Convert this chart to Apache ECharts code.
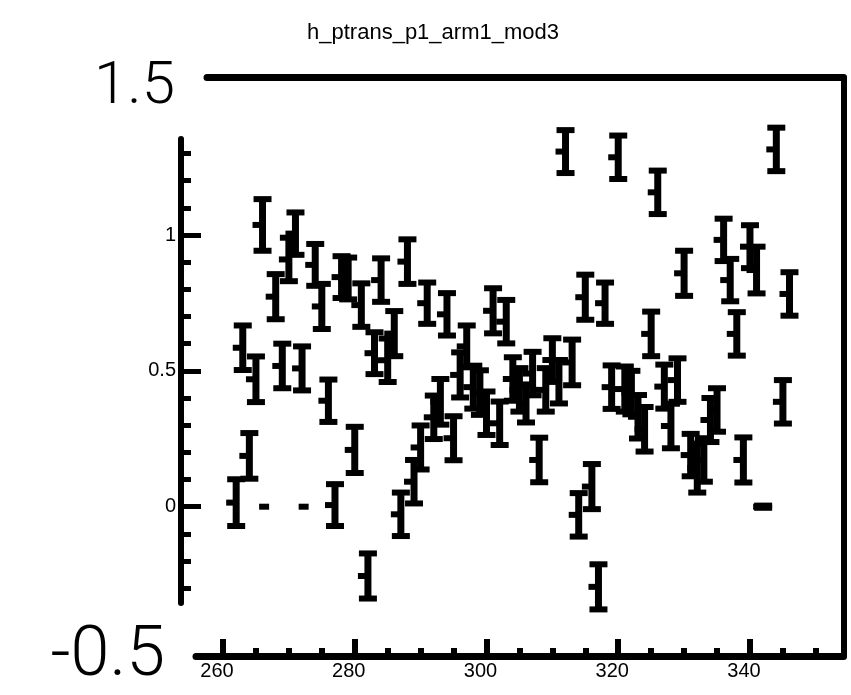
<!DOCTYPE html>
<html><head><meta charset="utf-8">
<script src="https://cdn.jsdelivr.net/npm/echarts@6/dist/echarts.min.js"></script>
<style>html,body{margin:0;padding:0;background:#fff}#c{width:851px;height:695px}</style>
</head><body><div id="c"></div>
<script>
const chartTitle = 'h_ptrans_p1_arm1_mod3';
const xValues = [262,263,264,265,266,267,268,269,270,271,272,273,274,275,276,277,278,279,280,281,282,283,284,285,286,287,288,289,290,291,292,293,294,295,296,297,298,299,300,301,302,303,304,305,306,307,308,309,310,311,312,313,314,315,316,317,318,319,320,321,322,323,324,325,326,327,328,329,330,331,332,333,334,335,336,337,338,339,340,341,342,344,345,346];
const yValues = [0.015,0.585,0.187,0.469,1.037,0,0.773,0.518,0.910,1.005,0.509,0,0.890,0.737,0.390,0.006,0.845,0.840,0.209,0.742,-0.255,0.565,0.834,0.539,0.637,-0.028,0.902,0.092,0.218,0.749,0.329,0.386,0.708,0.252,0.485,0.590,0.440,0.420,0.344,0.721,0.307,0.681,0.470,0.430,0.380,0.490,0.172,0.430,0.540,0.460,1.307,0.531,-0.030,0.771,0.074,-0.295,0.749,0.440,1.286,0.433,0.420,0.331,0.285,0.636,1.157,0.442,0.297,0.466,0.859,0.190,0.142,0.172,0.319,0.356,0.982,0.834,0.636,0.172,0.957,0.871,0,1.315,0.386,0.783];
const yErrors = [0.086,0.082,0.084,0.084,0.095,0,0.083,0.082,0.080,0.078,0.081,0,0.077,0.083,0.078,0.077,0.077,0.077,0.085,0.080,0.083,0.077,0.080,0.080,0.083,0.080,0.082,0.080,0.081,0.076,0.080,0.084,0.078,0.081,0.083,0.077,0.079,0.082,0.080,0.083,0.080,0.080,0.080,0.080,0.070,0.080,0.082,0.080,0.080,0.080,0.079,0.084,0.080,0.083,0.083,0.083,0.076,0.080,0.080,0.083,0.080,0.080,0.082,0.082,0.080,0.081,0.082,0.080,0.083,0.078,0.090,0.080,0.081,0.080,0.078,0.078,0.080,0.083,0.079,0.086,0.004,0.080,0.080,0.080];
const xMajorTicks = [260,280,300,320,340];
const xMinorTicks = [265,270,275,285,290,295,305,310,315,325,330,335,345,350];
const yMajorTicks = [0,0.5,1];
const yMinorTicks = [-0.3,-0.2,-0.1,0.1,0.2,0.3,0.4,0.6,0.7,0.8,0.9,1.1,1.2,1.3];
const frameLabels = ['1.5','-0.5'];

const points = xValues.map((x,i)=>[x, yValues[i], yErrors[i]]);
const chart = echarts.init(document.getElementById('c'), null, {renderer:'canvas'});
const BLACK = '#000';
const X_MIN = 255.9, X_MAX = 354.2;
const gridData = {left:196, right:7.5, top:139, bottom:39};
const gridY = {left:181, right:7.5, top:139, bottom:92};
const hiddenAxis = (gi, extra) => Object.assign({gridIndex:gi, type:'value', show:false}, extra||{});

function renderItem(params, api){
  const x = api.value(0), y = api.value(1), e = api.value(2);
  const c = api.coord([x, y]);
  const cx = c[0], cy = c[1];
  const st = {fill: BLACK};
  const children = [];
  if (e > 0) {
    const top = api.coord([x, y + e])[1];
    const bot = api.coord([x, y - e])[1];
    children.push({type:'rect', shape:{x:cx-3.5, y:top, width:7, height:bot-top}, style:st});
    children.push({type:'rect', shape:{x:cx-9, y:top-3, width:18, height:6}, style:st});
    children.push({type:'rect', shape:{x:cx-9, y:bot-3, width:18, height:6}, style:st});
  }
  children.push({type:'rect', shape:{x:cx-10, y:cy-3, width:10, height:6}, style:st});
  return {type:'group', children};
}

const option = {
  animation:false,
  backgroundColor:'#fff',
  grid:[
    Object.assign({}, gridData),
    Object.assign({}, gridData),
    Object.assign({}, gridY),
    Object.assign({}, gridY),
    {left:207, right:7.5, top:77.5, bottom:39}
  ],
  xAxis:[
    {gridIndex:0, type:'value', min:X_MIN, max:X_MAX, position:'bottom',
      axisLine:{show:true, onZero:false, lineStyle:{color:BLACK, width:7}},
      axisTick:{show:true, inside:true, length:17, customValues:xMajorTicks, lineStyle:{color:BLACK, width:6}},
      axisLabel:{show:true, customValues:xMajorTicks, color:BLACK, fontSize:20, fontFamily:'Liberation Sans', margin:5, padding:[0,12,0,0]},
      splitLine:{show:false}},
    {gridIndex:1, type:'value', min:X_MIN, max:X_MAX, position:'bottom',
      axisLine:{show:false, onZero:false},
      axisTick:{show:true, inside:true, length:8, customValues:xMinorTicks, lineStyle:{color:BLACK, width:6}},
      axisLabel:{show:false}, splitLine:{show:false}},
    hiddenAxis(2,{min:0,max:1}),
    hiddenAxis(3,{min:0,max:1}),
    {gridIndex:4, type:'value', min:0, max:1, position:'top',
      axisLine:{show:true, onZero:false, lineStyle:{color:BLACK, width:7}},
      axisTick:{show:false}, axisLabel:{show:false}, splitLine:{show:false}}
  ],
  yAxis:[
    hiddenAxis(0,{min:-0.5495, max:1.3533}),
    hiddenAxis(1,{min:-0.5495, max:1.3533}),
    {gridIndex:2, type:'value', min:-0.3544, max:1.3533, position:'left',
      axisLine:{show:true, onZero:false, lineStyle:{color:BLACK, width:6}},
      axisTick:{show:true, inside:true, length:20, customValues:yMajorTicks, lineStyle:{color:BLACK, width:5}},
      axisLabel:{show:true, customValues:yMajorTicks, color:BLACK, fontSize:20, fontFamily:'Liberation Sans', margin:5},
      splitLine:{show:false}},
    {gridIndex:3, type:'value', min:-0.3544, max:1.3533, position:'left',
      axisLine:{show:false, onZero:false},
      axisTick:{show:true, inside:true, length:10, customValues:yMinorTicks, lineStyle:{color:BLACK, width:5}},
      axisLabel:{show:false}, splitLine:{show:false}},
    {gridIndex:4, type:'value', min:0, max:1, position:'right',
      axisLine:{show:true, onZero:false, lineStyle:{color:BLACK, width:6}},
      axisTick:{show:false}, axisLabel:{show:false}, splitLine:{show:false}}
  ],
  graphic:[
    {type:'text', x:433, y:33, style:{text:chartTitle, fill:BLACK, font:'22px "Liberation Sans"', textAlign:'center', textVerticalAlign:'middle'}},
    {type:'text', x:175, y:88, style:{text:frameLabels[0], fill:BLACK, font:'300 60px Roboto', textAlign:'right', textVerticalAlign:'middle'}},
    {type:'text', x:165, y:657, style:{text:frameLabels[1], fill:BLACK, font:'300 70px Roboto', textAlign:'right', textVerticalAlign:'middle'}}
  ],
  series:[{
    type:'custom', xAxisIndex:0, yAxisIndex:0, clip:false,
    data:points, renderItem
  }]
};
chart.setOption(option);
</script></body></html>
